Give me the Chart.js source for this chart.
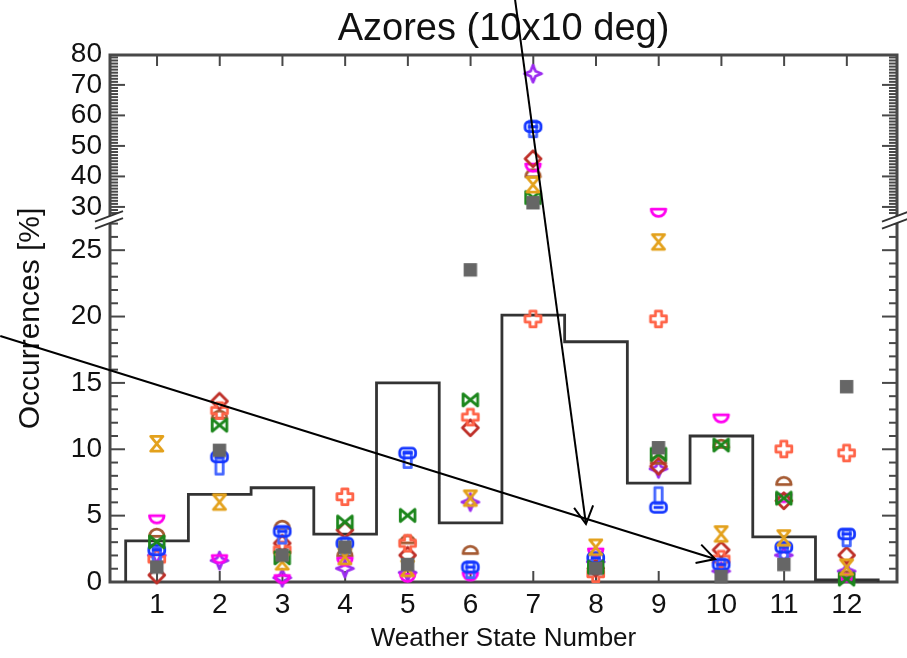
<!DOCTYPE html>
<html><head><meta charset="utf-8">
<script src="https://cdn.jsdelivr.net/npm/chart.js@4/dist/chart.umd.min.js"></script>
<style>html,body{margin:0;padding:0;background:#fff;}#wrap{width:907px;height:658px;}</style>
</head><body><div id="wrap"><canvas id="c" width="907" height="658"></canvas></div>
<script>
// ---------- data ----------
const categories = [1,2,3,4,5,6,7,8,9,10,11,12];
const histogram  = [3.1, 6.6, 7.1, 3.6, 15.0, 4.45, 20.1, 18.1, 7.45, 11.0, 3.4, 0.15];
const grayVals    = [1.1, 9.9, 2.0, 2.6, 1.3, 23.5, 31.3, 1.0, 10.1, 0.4, 1.3, 14.7];
const orangeVals  = [10.4, 6.0, 1.5, 1.9, 1.0, 6.3, 37.2, 2.6, 25.6, 3.6, 3.3, 1.1];
const greenVals   = [3.0, 11.8, 1.8, 4.5, 5.0, 13.7, 33.0, 1.1, 9.6, 10.3, 6.3, 0.2];
const blueVals    = [2.4, 9.4, 3.8, 2.9, 9.7, 1.1, 56.2, 1.8, 5.6, 1.3, 2.6, 3.6];
const blue2Vals   = [2.0, 8.7, 3.5, 2.7, 9.2, 0.9, 55.5, 1.6, 6.5, 1.1, 2.3, 3.3];
const tomatoVals  = [1.7, 12.9, 2.4, 6.4, 2.9, 12.4, 19.8, 0.6, 19.8, 1.7, 10.0, 9.7];
const redVals     = [0.5, 13.6, 2.9, 3.9, 2.0, 11.6, 45.7, 1.0, 8.7, 2.4, 6.1, 2.0];
const magentaVals = [4.7, 1.7, 0.2, 1.5, 0.3, 0.4, 42.8, 2.2, 28.0, 12.3, 6.3, 0.3];
const brownVals   = [3.7, 12.6, 4.3, 2.2, 3.2, 2.4, 41.0, 1.3, 9.2, 10.4, 7.6, 0.5];
const purpleVals  = [2.0, 1.6, 0.3, 1.0, 0.7, 6.0, 73.6, 1.5, 8.5, 0.8, 2.0, 0.8];
const lowTicks  = [0,5,10,15,20,25];
const highTicks = [30,40,50,60,70,80];
const BREAK = 27.5;
const titleText = 'Azores (10x10 deg)';
const xTitle = 'Weather State Number';
const yTitle = 'Occurrences [%]';
// annotation arrows (data units of x / lower y scale)
const arrowFrom = [[-1.50, 18.54], [6.71, 43.86]];
const arrowTo   = [[9.90, 1.73],  [7.84, 4.37]];

const FONT = "'Liberation Sans', Arial, Helvetica, sans-serif";
Chart.defaults.font.family = FONT;
Chart.defaults.color = '#111';

function makeMarker(kind, color){
  const S = 1.22;
  const c = document.createElement('canvas'); c.width = 22; c.height = 22;
  const g = c.getContext('2d');
  g.strokeStyle = color; g.fillStyle = color; g.lineWidth = 2.3; g.lineJoin = 'round';
  g.translate(1,1); g.scale(S,S);
  g.beginPath();
  switch(kind){
    case 'square': g.fillRect(2.5,2.5,11,11); return c;
    case 'hourglass': g.moveTo(3,2);g.lineTo(13,2);g.lineTo(3,14);g.lineTo(13,14);g.closePath();break;
    case 'bowtie': g.moveTo(2,3);g.lineTo(2,13);g.lineTo(14,3);g.lineTo(14,13);g.closePath();break;
    case 'roundrect': {
      const x=1.5,y=4,w=13,h=8,r=3;
      g.moveTo(x+r,y);g.arcTo(x+w,y,x+w,y+h,r);g.arcTo(x+w,y+h,x,y+h,r);g.arcTo(x,y+h,x,y,r);g.arcTo(x,y,x+w,y,r);g.closePath();
      g.moveTo(4,8);g.lineTo(12,8);break;}
    case 'tallrect': g.rect(5,1.5,6,13); break;
    case 'plus': {
      const p=[[5.5,1.5],[10.5,1.5],[10.5,5.5],[14.5,5.5],[14.5,10.5],[10.5,10.5],[10.5,14.5],[5.5,14.5],[5.5,10.5],[1.5,10.5],[1.5,5.5],[5.5,5.5]];
      g.moveTo(p[0][0],p[0][1]); p.slice(1).forEach(q=>g.lineTo(q[0],q[1])); g.closePath(); break;}
    case 'diamond': g.moveTo(8,1.5);g.lineTo(14.5,8);g.lineTo(8,14.5);g.lineTo(1.5,8);g.closePath();break;
    case 'bowl': g.moveTo(2,5);g.lineTo(14,5);g.arc(8,5,6,0,Math.PI,false);g.closePath();break;
    case 'dome': g.moveTo(2,11);g.arc(8,11,6,Math.PI,2*Math.PI,false);g.closePath();break;
    case 'star4': {
      const p=[[8,1],[10,6],[15,8],[10,10],[8,15],[6,10],[1,8],[6,6]];
      g.moveTo(p[0][0],p[0][1]); p.slice(1).forEach(q=>g.lineTo(q[0],q[1])); g.closePath(); break;}
  }
  g.stroke();
  return c;
}

const series = [
  {label:'gray',    values:grayVals,    kind:'square',    color:'#666666'},
  {label:'orange',  values:orangeVals,  kind:'hourglass', color:'#E3A11C'},
  {label:'green',   values:greenVals,   kind:'bowtie',    color:'#1B861B'},
  {label:'blue',    values:blueVals,    kind:'roundrect', color:'#1436FF'},
  {label:'blue2',   values:blue2Vals,   kind:'tallrect',  color:'#4566FF'},
  {label:'tomato',  values:tomatoVals,  kind:'plus',      color:'#FF6347'},
  {label:'red',     values:redVals,     kind:'diamond',   color:'#BE2F28'},
  {label:'magenta', values:magentaVals, kind:'bowl',      color:'#FF00F0'},
  {label:'brown',   values:brownVals,   kind:'dome',      color:'#A55A32'},
  {label:'purple',  values:purpleVals,  kind:'star4',     color:'#9B2BF0'}
];

const datasets = [];
// step histogram
const stepPts = [{x:categories[0]-0.5, y:0}]
  .concat(categories.map((c,i)=>({x:c-0.5, y:histogram[i]})))
  .concat([{x:categories[categories.length-1]+0.5, y:histogram[histogram.length-1]},
           {x:categories[categories.length-1]+0.5, y:0}]);
datasets.push({type:'line', label:'hist', data:stepPts, yAxisID:'yLow', stepped:'before',
  borderColor:'#333333', borderWidth:2.8, pointRadius:0, fill:false, order:10});

series.forEach(s=>{
  const img = makeMarker(s.kind, s.color);
  const low = [], high = [];
  categories.forEach((c,i)=>{ const v=s.values[i]; if(v==null) return; (v<=BREAK?low:high).push({x:c,y:v}); });
  datasets.push({type:'scatter', label:s.label, data:low, yAxisID:'yLow', pointStyle:img, pointRadius:9, clip:false, order:1});
  if (high.length) datasets.push({type:'scatter', label:s.label+'_hi', data:high, yAxisID:'yHigh', pointStyle:img, pointRadius:9, clip:false, order:1});
});

const AXC = '#484848';
const framePlugin = {
  id:'frame',
  beforeDatasetsDraw(chart){
    const {ctx, chartArea:a} = chart;
    const x = chart.scales.x, yl = chart.scales.yLow, yh = chart.scales.yHigh;
    ctx.save();
    ctx.strokeStyle = AXC;
    const tick = (x1,y1,x2,y2,w)=>{ctx.lineWidth=w;ctx.beginPath();ctx.moveTo(x1,y1);ctx.lineTo(x2,y2);ctx.stroke();};
    const yTicks = (sc, majors, lo, hi)=>{
      for(let v=Math.ceil(lo); v<=Math.floor(hi); v++){
        const p = sc.getPixelForValue(v);
        const L = majors.includes(v) ? 15 : 8;
        tick(a.left, p, a.left+L, p, 2);
        tick(a.right, p, a.right-L, p, 2);
      }
    };
    yTicks(yl, lowTicks, yl.min, yl.max);
    yTicks(yh, highTicks, yh.min+0.5, yh.max);
    categories.forEach(c=>{
      const p = x.getPixelForValue(c);
      tick(p, a.bottom, p, a.bottom-11, 2);
      tick(p, a.top, p, a.top+11, 2);
    });
    ctx.lineWidth = 3;
    ctx.strokeRect(a.left, a.top, a.right-a.left, a.bottom-a.top);
    // break marks
    const yb = yl.top;
    [a.left, a.right].forEach(x0=>{
      const s = -0.38, x1 = x0-15, x2 = x0+13;
      const yA = xx => yb - 1 + (xx-x0)*s, yB = xx => yb + 6 + (xx-x0)*s;
      ctx.fillStyle = '#fff';
      ctx.beginPath(); ctx.moveTo(x1,yA(x1)); ctx.lineTo(x2,yA(x2)); ctx.lineTo(x2,yB(x2)); ctx.lineTo(x1,yB(x1)); ctx.closePath(); ctx.fill();
      ctx.strokeStyle = '#333'; ctx.lineWidth = 1.8;
      ctx.beginPath(); ctx.moveTo(x1,yA(x1)); ctx.lineTo(x2,yA(x2)); ctx.stroke();
      ctx.beginPath(); ctx.moveTo(x1,yB(x1)); ctx.lineTo(x2,yB(x2)); ctx.stroke();
    });
    ctx.restore();
  },
  afterDraw(chart){
    const {ctx, chartArea:a} = chart;
    const x = chart.scales.x, yl = chart.scales.yLow;
    ctx.save();
    ctx.translate(31, (a.top+a.bottom)/2);
    ctx.rotate(-Math.PI/2);
    ctx.font = '30px ' + FONT; ctx.fillStyle = '#111';
    ctx.textAlign = 'center'; ctx.textBaseline = 'middle';
    ctx.fillText(yTitle, 0, 0);
    ctx.restore();
    ctx.save();
    ctx.strokeStyle = '#000'; ctx.lineWidth = 2;
    arrowFrom.forEach((f,i)=>{
      const t = arrowTo[i];
      const x1 = x.getPixelForValue(f[0]), y1 = yl.getPixelForValue(f[1]);
      const x2 = x.getPixelForValue(t[0]), y2 = yl.getPixelForValue(t[1]);
      ctx.beginPath(); ctx.moveTo(x1,y1); ctx.lineTo(x2,y2); ctx.stroke();
      const ang = Math.atan2(y2-y1, x2-x1), L = 20, sp = 0.5;
      ctx.beginPath();
      ctx.moveTo(x2 - L*Math.cos(ang-sp), y2 - L*Math.sin(ang-sp));
      ctx.lineTo(x2,y2);
      ctx.lineTo(x2 - L*Math.cos(ang+sp), y2 - L*Math.sin(ang+sp));
      ctx.stroke();
    });
    ctx.restore();
  }
};

const tickFont = {size:28, family:FONT};
new Chart(document.getElementById('c'), {
  type:'scatter',
  data:{datasets},
  options:{
    responsive:false, animation:false, devicePixelRatio:1,
    layout:{padding:{top:0, right:10, left:0, bottom:0}},
    plugins:{
      legend:{display:false}, tooltip:{enabled:false},
      title:{display:true, text:titleText, fullSize:false, font:{size:38, weight:'normal', family:FONT}, color:'#111', padding:{top:7,bottom:2.4}}
    },
    scales:{
      x:{type:'linear', min:0.25, max:12.8,
        afterBuildTicks(s){ s.ticks = categories.map(v=>({value:v})); },
        grid:{display:false, drawTicks:false}, border:{display:false},
        ticks:{font:tickFont, color:'#111', padding:6, maxRotation:0, autoSkip:false, callback:v=>String(v)},
        title:{display:true, text:xTitle, font:{size:26, family:FONT}, color:'#111', padding:{top:0,bottom:4}},
        afterFit(s){ s.height = 76; }
      },
      yHigh:{type:'linear', position:'left', stack:'y', stackWeight:162, weight:2, min:26.7, max:79.8,
        afterBuildTicks(s){ s.ticks = highTicks.map(v=>({value:v})); },
        grid:{display:false, drawTicks:false}, border:{display:false},
        ticks:{font:tickFont, color:'#111', padding:8, autoSkip:false},
        afterFit(s){ s.width = 110; }
      },
      yLow:{type:'linear', position:'left', stack:'y', stackWeight:365, weight:1, min:0, max:BREAK,
        afterBuildTicks(s){ s.ticks = lowTicks.map(v=>({value:v})); },
        grid:{display:false, drawTicks:false}, border:{display:false},
        ticks:{font:tickFont, color:'#111', padding:8, autoSkip:false},
        afterFit(s){ s.width = 110; }
      }
    }
  },
  plugins:[framePlugin]
});
</script>
</body></html>
